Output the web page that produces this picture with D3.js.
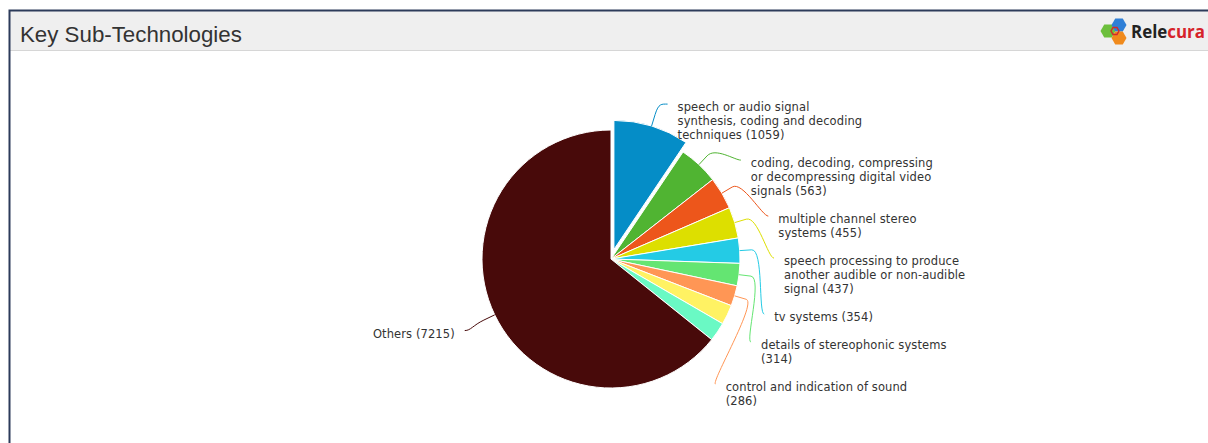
<!DOCTYPE html>
<html>
<head>
<meta charset="utf-8">
<script src="https://cdn.jsdelivr.net/npm/d3@7/dist/d3.min.js"></script>
<style>
  html, body { margin: 0; padding: 0; background: #ffffff; }
  svg { display: block; }
</style>
</head>
<body>
<svg id="chart" width="1208" height="443"></svg>
<script>
// Sub-technology categories and patent counts
const categories = [
  "speech or audio signal synthesis, coding and decoding techniques",
  "coding, decoding, compressing or decompressing digital video signals",
  "multiple channel stereo systems",
  "speech processing to produce another audible or non-audible signal",
  "tv systems",
  "details of stereophonic systems",
  "control and indication of sound",
  "stereophonic arrangements",
  "loudspeaker and microphone circuits",
  "Others"
];
const values = [1059, 563, 455, 437, 354, 314, 286, 278, 268, 7215];
const colors = ["#058DC7", "#50B432", "#ED561B", "#DDDF00", "#24CBE5",
                "#64E572", "#FF9655", "#FFF263", "#6AF9C4", "#480a0a"];
const slicedIndex = 0;

const W = 1208, H = 443;
const svg = d3.select("#chart");

// ---- panel frame and header ----
svg.append("rect").attr("x", 10).attr("y", 11).attr("width", W).attr("height", 39)
  .attr("fill", "#efefef");
svg.append("line").attr("x1", 10).attr("x2", W).attr("y1", 50.5).attr("y2", 50.5)
  .attr("stroke", "#d6d6d6").attr("stroke-width", 1);
svg.append("path").attr("d", `M9.5,${H} L9.5,10.5 L${W},10.5`)
  .attr("fill", "none").attr("stroke", "#2c3b5a").attr("stroke-width", 2);

svg.append("text").attr("x", 20).attr("y", 42)
  .attr("font-family", "Liberation Sans, Arial, sans-serif")
  .attr("font-size", 22.3).attr("fill", "#333")
  .text("Key Sub-Technologies");

// ---- brand mark ----
const logo = svg.append("g").attr("transform", "translate(1114,31)");
const hex = (x, y, s) => {
  const pts = d3.range(6).map(i => {
    const a = Math.PI / 3 * i;
    return [x + s * Math.cos(a), y + s * Math.sin(a)];
  });
  return "M" + pts.map(p => p.join(",")).join("L") + "Z";
};
logo.append("path").attr("d", hex(-6, 0, 7.5)).attr("fill", "#6cbf3c");
logo.append("path").attr("d", hex(5, -6, 7.5)).attr("fill", "#2f7fd6");
logo.append("path").attr("d", hex(5, 7, 7.5)).attr("fill", "#f08a1c");
logo.append("path").attr("d", hex(1, 0, 4)).attr("fill", "none")
  .attr("stroke", "#d42a2a").attr("stroke-width", 1.4);
const brand = svg.append("text").attr("x", 1131).attr("y", 38)
  .attr("font-family", "Open Sans, Liberation Sans, sans-serif")
  .attr("font-weight", "bold").attr("font-size", 17)
  .attr("textLength", 74).attr("lengthAdjust", "spacingAndGlyphs");
brand.append("tspan").attr("fill", "#222").text("Rele");
brand.append("tspan").attr("fill", "#d6232a").text("cura");

// ---- pie ----
const cx = 611, cy = 259, r = 129;
const slicedOffset = 10;
// labels sit on an ellipse around the pie
const labelRX = 173, labelRY = 167.5, labelCY = 2.7;
const lineH = 14;
const wrapWidth = 189;
const labelFont = "DejaVu Sans, Verdana, sans-serif";
const labelSize = 11.5;
const labelSpacing = 0.1;
const plotBottom = 427;

const data = categories.map((c, i) => ({ name: c, value: values[i], color: colors[i], i }));
const pie = d3.pie().value(d => d.value).sort(null).startAngle(0).endAngle(2 * Math.PI);
const arcs = pie(data);
const arc = d3.arc().innerRadius(0).outerRadius(r);

const g = svg.append("g").attr("transform", `translate(${cx},${cy})`);

function offsetOf(a) {
  if (a.data.i !== slicedIndex) return [0, 0];
  const m = (a.startAngle + a.endAngle) / 2;
  return [Math.sin(m) * slicedOffset, -Math.cos(m) * slicedOffset];
}

g.selectAll("path.slice").data(arcs).join("path")
  .attr("class", "slice")
  .attr("d", arc)
  .attr("transform", d => `translate(${offsetOf(d)})`)
  .attr("fill", d => d.data.color)
  .attr("stroke", "#ffffff").attr("stroke-width", 1)
  .attr("stroke-linejoin", "round");

// measure & wrap label text
const meas = svg.append("text").attr("font-family", labelFont)
  .attr("font-size", labelSize).attr("letter-spacing", labelSpacing)
  .attr("visibility", "hidden");
function textWidth(s) { meas.text(s); return meas.node().getComputedTextLength(); }
function wrap(s) {
  const words = s.split(" ");
  const lines = [];
  let cur = "";
  words.forEach(w => {
    const t = cur ? cur + " " + w : w;
    if (cur && textWidth(t) > wrapWidth) { lines.push(cur); cur = w; }
    else cur = t;
  });
  if (cur) lines.push(cur);
  return lines;
}

// label placement: natural position along mid-angle, then stacked to avoid overlap
const labels = arcs.map(a => {
  const m = (a.startAngle + a.endAngle) / 2;
  const lines = wrap(`${a.data.name} (${a.data.value})`);
  return {
    a, m, lines,
    right: Math.sin(m) >= 0,
    natural: -Math.cos(m) * (r + 34) + 4
  };
});

function stack(side) {
  let prevBottom = -Infinity;
  side.sort((p, q) => p.natural - q.natural).forEach(l => {
    l.y = Math.max(l.natural, prevBottom);
    prevBottom = l.y + (l.lines.length + 1) * lineH;
    l.visible = cy + l.y + l.lines.length * lineH <= plotBottom;
  });
}
stack(labels.filter(l => l.right));
stack(labels.filter(l => !l.right));

labels.filter(l => l.visible).forEach(l => {
  const dir = l.right ? 1 : -1;
  const k2 = Math.min(0.999, Math.pow((l.y - labelCY) / labelRY, 2));
  const lx = dir * labelRX * Math.sqrt(1 - k2);
  const [ox, oy] = offsetOf(l.a);
  const sx = Math.sin(l.m), sy = -Math.cos(l.m);
  const T = [ox + sx * r, oy + sy * r];
  const B = [ox + sx * (r + 12), oy + sy * (r + 12)];
  const E = [lx - dir * 10, l.y - 3];
  const path = d3.path();
  path.moveTo(E[0], E[1]);
  path.bezierCurveTo(E[0] - dir * 6, E[1], 2 * B[0] - T[0], 2 * B[1] - T[1], B[0], B[1]);
  path.lineTo(T[0], T[1]);
  g.append("path").attr("d", path.toString())
    .attr("fill", "none").attr("stroke", l.a.data.color).attr("stroke-width", 1);

  const t = g.append("text")
    .attr("font-family", labelFont).attr("font-size", labelSize)
    .attr("letter-spacing", labelSpacing).attr("fill", "#333")
    .attr("text-anchor", l.right ? "start" : "end");
  l.lines.forEach((s, k) => {
    t.append("tspan").attr("x", lx).attr("y", l.y + 4 + k * lineH).text(s);
  });
});
meas.remove();
</script>
</body>
</html>
